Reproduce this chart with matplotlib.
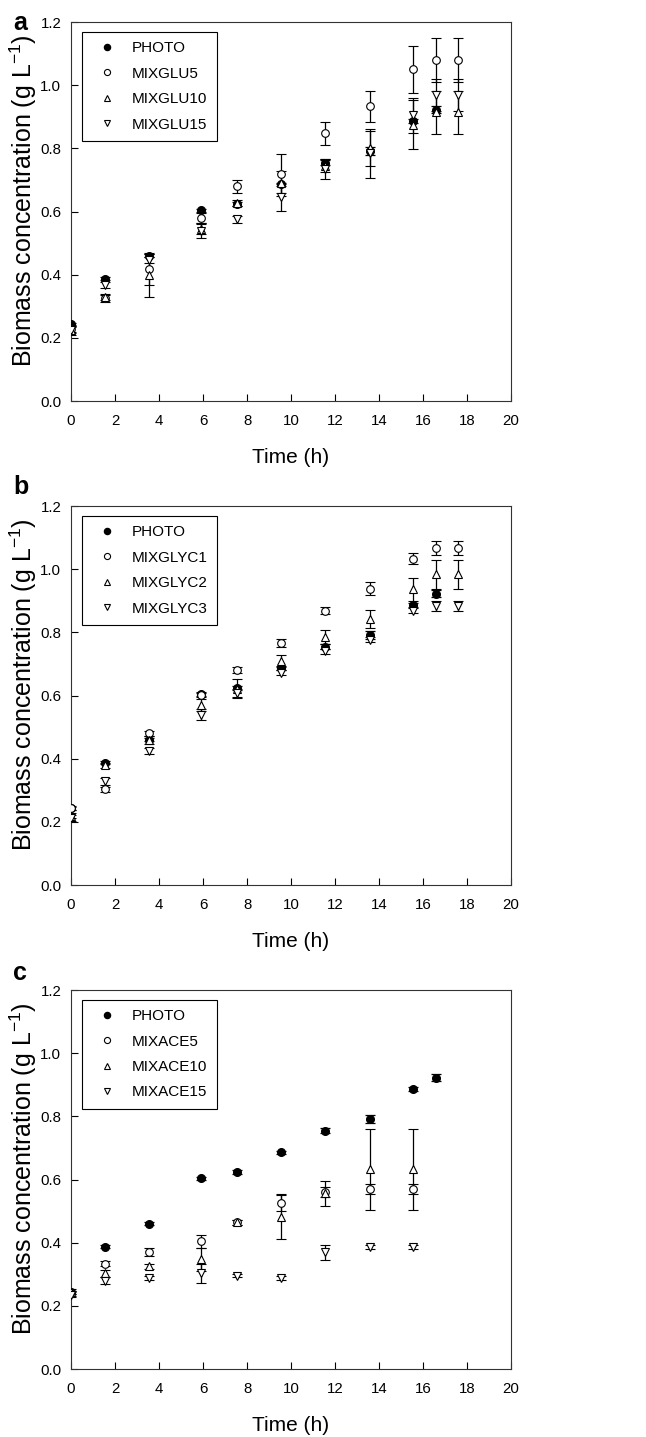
import matplotlib
matplotlib.use("Agg")
import matplotlib.pyplot as plt
from matplotlib import font_manager

# time points (h)
times = [0, 1.55, 3.55, 5.9, 7.55, 9.55, 11.55, 13.6, 15.55, 16.6, 17.6]
photo_times = times[:10]
photo = [0.243, 0.388, 0.460, 0.604, 0.625, 0.687, 0.754, 0.792, 0.887, 0.923]
photo_err = [0.005, 0.005, 0.005, 0.005, 0.006, 0.005, 0.008, 0.012, 0.006, 0.010]

# panel a - glucose
glu5 = [0.228, 0.325, 0.418, 0.580, 0.680, 0.720, 0.848, 0.933, 1.050, 1.080, 1.080]
glu5_err = [0.010, 0.010, 0.050, 0.015, 0.020, 0.062, 0.036, 0.050, 0.074, 0.070, 0.070]
glu10 = [0.225, 0.330, 0.398, 0.545, 0.628, 0.690, 0.745, 0.800, 0.875, 0.915, 0.915]
glu10_err = [0.010, 0.010, 0.068, 0.015, 0.010, 0.040, 0.020, 0.055, 0.077, 0.068, 0.068]
glu15 = [0.225, 0.368, 0.446, 0.540, 0.575, 0.645, 0.735, 0.785, 0.905, 0.970, 0.970]
glu15_err = [0.015, 0.010, 0.010, 0.025, 0.010, 0.043, 0.032, 0.078, 0.055, 0.050, 0.050]

# panel b - glycerol
glyc1 = [0.244, 0.304, 0.480, 0.603, 0.682, 0.767, 0.869, 0.939, 1.033, 1.068, 1.068]
glyc1_err = [0.005, 0.008, 0.008, 0.008, 0.010, 0.012, 0.012, 0.020, 0.017, 0.022, 0.022]
glyc2 = [0.220, 0.379, 0.460, 0.570, 0.622, 0.711, 0.785, 0.843, 0.936, 0.984, 0.984]
glyc2_err = [0.008, 0.008, 0.012, 0.020, 0.030, 0.018, 0.022, 0.028, 0.036, 0.045, 0.045]
glyc3 = [0.212, 0.328, 0.424, 0.540, 0.608, 0.672, 0.740, 0.777, 0.869, 0.883, 0.883]
glyc3_err = [0.010, 0.010, 0.010, 0.018, 0.013, 0.008, 0.008, 0.008, 0.008, 0.015, 0.015]

# panel c - acetate
ace5 = [0.240, 0.333, 0.371, 0.404, 0.465, 0.525, 0.560, 0.570, 0.570]
ace5_err = [0.008, 0.008, 0.012, 0.020, 0.008, 0.025, 0.015, 0.015, 0.015]
ace10 = [0.245, 0.303, 0.326, 0.347, 0.465, 0.483, 0.556, 0.632, 0.632]
ace10_err = [0.008, 0.010, 0.008, 0.035, 0.008, 0.070, 0.040, 0.128, 0.128]
ace15 = [0.235, 0.280, 0.289, 0.303, 0.296, 0.289, 0.370, 0.386, 0.386]
ace15_err = [0.008, 0.010, 0.006, 0.030, 0.004, 0.006, 0.024, 0.006, 0.006]

# narrow face if there is one, else plain Arial-metric font at smaller sizes
names = {f.name for f in font_manager.fontManager.ttflist}
if 'Liberation Sans Narrow' in names:
    face = 'Liberation Sans Narrow'
    sz_tick, sz_leg, sz_lab, sz_let = 11.7, 13.4, 16.6, 19
else:
    face = 'Liberation Sans'
    sz_tick, sz_leg, sz_lab, sz_let = 10.8, 11, 15, 18
plt.rcParams['font.family'] = [face, 'DejaVu Sans']
plt.rcParams['mathtext.fontset'] = 'custom'
plt.rcParams['mathtext.rm'] = 'Liberation Sans'
plt.rcParams['mathtext.it'] = 'Liberation Sans:italic'

panels = [
    ('a', 0.7209, ['PHOTO', 'MIXGLU5', 'MIXGLU10', 'MIXGLU15'],
     [(glu5, glu5_err), (glu10, glu10_err), (glu15, glu15_err)], 30),
    ('b', 0.3841, ['PHOTO', 'MIXGLYC1', 'MIXGLYC2', 'MIXGLYC3'],
     [(glyc1, glyc1_err), (glyc2, glyc2_err), (glyc3, glyc3_err)], 494),
    ('c', 0.0473, ['PHOTO', 'MIXACE5', 'MIXACE10', 'MIXACE15'],
     [(ace5, ace5_err), (ace10, ace10_err), (ace15, ace15_err)], 980),
]
markers = ['o', '^', 'v']

fig = plt.figure(figsize=(6.46, 14.37), dpi=100)
for letter, bottom, labels, series, letter_y in panels:
    ax = fig.add_axes([0.110, bottom, 0.681, 0.2637])
    handles = []
    c = ax.errorbar(photo_times, photo, yerr=photo_err, fmt='o', color='black',
                    mfc='black', mec='black', ms=5.5, capsize=3.5, elinewidth=0.9,
                    capthick=0.9, zorder=3)
    handles.append(c[0])
    for (vals, errs), m in zip(series, markers):
        t = times[:len(vals)]
        c = ax.errorbar(t, vals, yerr=errs, fmt=m, color='black', mfc='white',
                        mec='black', mew=0.8, ms=5.5, capsize=3.5, elinewidth=0.9,
                        capthick=0.9, zorder=3)
        handles.append(c[0])

    ax.set_xlim(0, 20)
    ax.set_ylim(0, 1.2)
    ax.set_xticks(range(0, 21, 2))
    ax.set_yticks([0, 0.2, 0.4, 0.6, 0.8, 1.0, 1.2])
    ax.set_yticklabels(['%.1f' % v for v in [0, 0.2, 0.4, 0.6, 0.8, 1.0, 1.2]])
    ax.tick_params(direction='in', length=5, width=0.8, labelsize=sz_tick)
    ax.tick_params(axis='x', pad=9)
    ax.tick_params(axis='y', pad=7)
    for s in ax.spines.values():
        s.set_linewidth(0.8)
        s.set_color('#333333')

    ax.set_xlabel('Time (h)', fontsize=sz_lab)
    ax.xaxis.set_label_coords(0.5, -0.124)
    ax.set_ylabel('Biomass concentration (g L$^{-1}$)', fontsize=18,
                  family='Liberation Sans')
    ax.yaxis.set_label_coords(-0.074, 0.528)

    leg = ax.legend(handles, labels, loc='upper left', bbox_to_anchor=(0.025, 0.974),
                    borderaxespad=0, fancybox=False, framealpha=1, edgecolor='black',
                    fontsize=sz_leg, handlelength=2.07, handletextpad=0.6,
                    labelspacing=0.75, borderpad=0.6, markerscale=0.8)
    leg.get_frame().set_linewidth(0.8)

    fig.text(13 / 646, 1 - letter_y / 1437, letter, fontsize=sz_let, fontweight='bold',
             va='baseline', ha='left')

fig.savefig('out.png', dpi=100)
